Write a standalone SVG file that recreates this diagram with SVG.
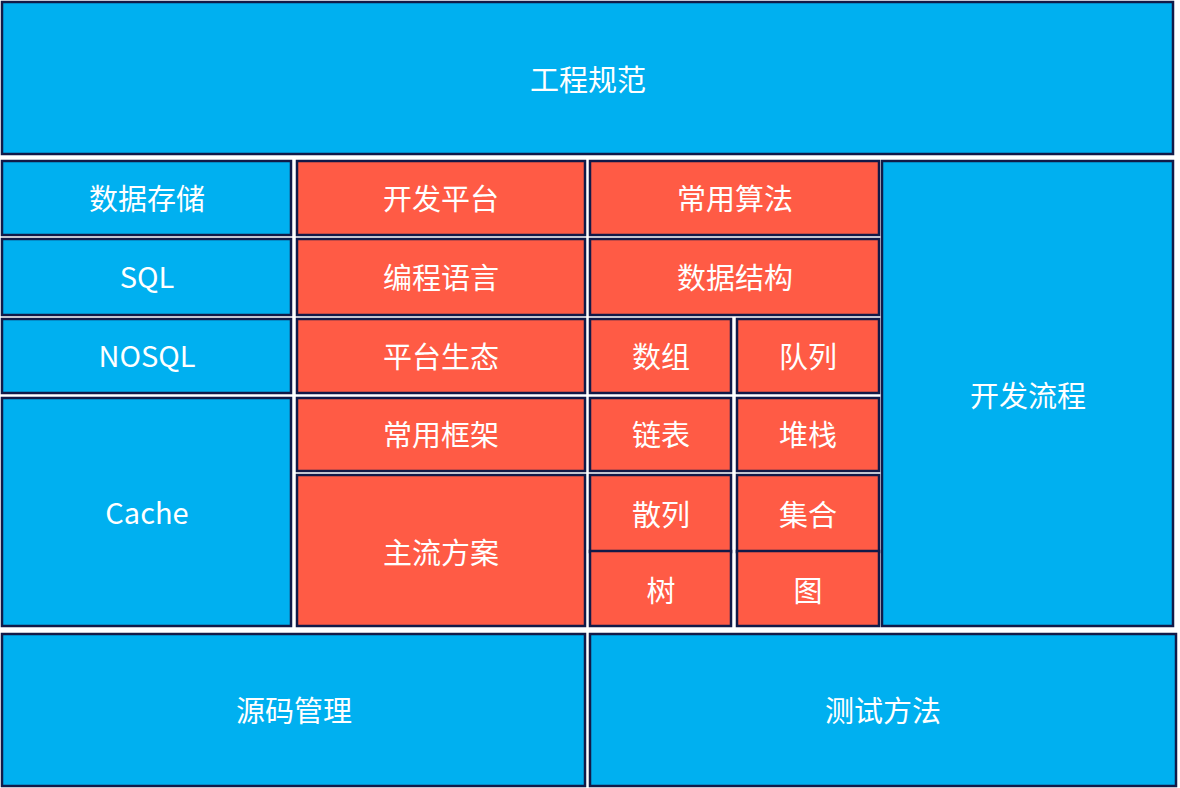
<svg xmlns="http://www.w3.org/2000/svg" width="1180" height="788" viewBox="0 0 1180 788">
<style>
.b{fill:#00B0F0;stroke:#121A48;stroke-width:2.5}
.r{fill:#FF5B45;stroke:#121A48;stroke-width:2.5}
text{fill:#FFFFFF;font-family:"Noto Sans CJK SC","Noto Sans",sans-serif;font-size:29px;text-anchor:middle;dominant-baseline:central}
</style>
<rect width="1180" height="788" fill="#FFFFFF"/>
<g id="n-gcgf"><rect class="b" x="2" y="2" width="1171" height="152"/><text x="588" y="78">工程规范</text></g>
<g id="n-sjcc"><rect class="b" x="2" y="161" width="289" height="74"/><text x="147" y="197">数据存储</text></g>
<g id="n-sql"><rect class="b" x="2" y="239" width="289" height="76"/><text x="147" y="275">SQL</text></g>
<g id="n-nosql"><rect class="b" x="2" y="319" width="289" height="74"/><text x="147" y="354">NOSQL</text></g>
<g id="n-cache"><rect class="b" x="2" y="398" width="289" height="228"/><text x="147" y="511">Cache</text></g>
<g id="n-kfpt"><rect class="r" x="297" y="161" width="288" height="74"/><text x="441" y="197">开发平台</text></g>
<g id="n-bcyy"><rect class="r" x="297" y="239" width="288" height="76"/><text x="441" y="276">编程语言</text></g>
<g id="n-ptst"><rect class="r" x="297" y="319" width="288" height="74"/><text x="441" y="355">平台生态</text></g>
<g id="n-cykj"><rect class="r" x="297" y="398" width="288" height="73"/><text x="441" y="433">常用框架</text></g>
<g id="n-zlfa"><rect class="r" x="297" y="475" width="288" height="151"/><text x="441" y="551">主流方案</text></g>
<g id="n-cysf"><rect class="r" x="590" y="161" width="289" height="74"/><text x="735" y="197">常用算法</text></g>
<g id="n-sjjg"><rect class="r" x="590" y="239" width="289" height="76"/><text x="735" y="276">数据结构</text></g>
<g id="n-sz"><rect class="r" x="590" y="319" width="141" height="74"/><text x="661" y="355">数组</text></g>
<g id="n-dl"><rect class="r" x="737" y="319" width="142" height="74"/><text x="808" y="355">队列</text></g>
<g id="n-lb"><rect class="r" x="590" y="398" width="141" height="73"/><text x="661" y="433">链表</text></g>
<g id="n-dz"><rect class="r" x="737" y="398" width="142" height="73"/><text x="808" y="433">堆栈</text></g>
<g id="n-sl"><rect class="r" x="590" y="475" width="141" height="77"/><text x="661" y="513">散列</text></g>
<g id="n-jh"><rect class="r" x="737" y="475" width="142" height="77"/><text x="808" y="513">集合</text></g>
<g id="n-s"><rect class="r" x="590" y="551" width="141" height="75"/><text x="661" y="589">树</text></g>
<g id="n-t"><rect class="r" x="737" y="551" width="142" height="75"/><text x="808" y="589">图</text></g>
<g id="n-kflc"><rect class="b" x="882" y="161" width="291" height="465"/><text x="1028" y="394">开发流程</text></g>
<g id="n-ymgl"><rect class="b" x="2" y="634" width="583" height="152"/><text x="294" y="709">源码管理</text></g>
<g id="n-csff"><rect class="b" x="590" y="634" width="586" height="152"/><text x="883" y="709">测试方法</text></g>
<g id="connectors"></g>
</svg>
